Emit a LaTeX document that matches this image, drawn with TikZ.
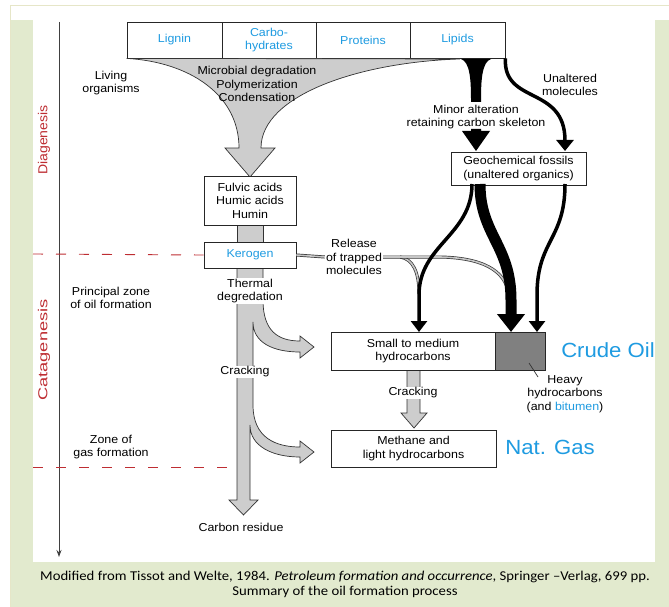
\documentclass[tikz,border=0pt]{standalone}
\usepackage{fontspec}
\setmainfont{Liberation Sans}[FakeStretch=1.08]
\newfontfamily\capfont{Carlito}[FakeStretch=1.09]
\usetikzlibrary{arrows.meta}
\definecolor{lblue}{RGB}{30,155,225}
\definecolor{dred}{RGB}{190,45,50}
\definecolor{pgreen}{RGB}{226,234,206}
\definecolor{pline}{RGB}{230,230,200}
\definecolor{fgray}{RGB}{205,205,205}
\definecolor{hgray}{RGB}{128,128,128}
\begin{document}
\begin{tikzpicture}[x=1pt,y=-1pt,font=\fontsize{11.5}{13.5}\selectfont,
  box/.style={draw=black!85,line width=0.8pt,fill=white,inner sep=0pt,align=center},
  lbl/.style={inner sep=1pt,align=center},
  wlbl/.style={inner sep=1pt,align=center,fill=white},
  garrow/.style={fill=fgray,draw=black!80,line width=0.7pt,line join=miter},
  reddash/.style={draw=dred,line width=0.9pt,dash pattern=on 10pt off 13pt},
  blk/.style={black,line width=3.5pt,-{Triangle[length=11pt,width=16pt]}},
  dbl/.style={draw=black!80,line width=0.7pt,double=gray!45,double distance=1.6pt},
  big/.style={font=\fontsize{20.5}{22}\selectfont,text=lblue,inner sep=0pt},
  stage/.style={font=\fontsize{13}{15}\selectfont,text=dred,rotate=90,inner sep=0pt}]
\useasboundingbox (0,0) rectangle (669,607);
% background
\fill[white] (0,0) rectangle (669,607);
\fill[pgreen] (10,20) rectangle (669,607);
\fill[white] (33,6) rectangle (655,562);
\draw[pline,line width=1pt] (10,607) -- (10,6) -- (669,6);
% axis and zone limits
\coordinate (axtop) at (59,22);
\coordinate (axbot) at (59,557);
\draw[black!75,line width=0.9pt,-{Stealth[length=7pt,width=5pt]}] (axtop) -- (axbot);
\node[stage] (diag) at (44,140) {Diagenesis};
\node[stage] (cata) at (44,350) {\scalebox{1.3}[1]{Catagenesis}};
\coordinate (d1a) at (33,254);
\coordinate (d2a) at (33,467);
\coordinate (d2b) at (228,467);
% top boxes
\node[box,minimum width=95pt,minimum height=36pt] (lignin) at (174.5,40) {};
\node[box,minimum width=94pt,minimum height=36pt] (carbo) at (269,40) {};
\node[box,minimum width=94pt,minimum height=36pt] (prot) at (363,40) {};
\node[box,minimum width=95pt,minimum height=36pt] (lipids) at (457.5,40) {};
% funnel
\draw[garrow] (lignin.south west) .. controls (190,62) and (239,95) .. (239,148) -- (225,148) -- (250,177) -- (275,148) -- (261,148) .. controls (261,95) and (360,62) .. (460,59) -- cycle;
% bar between fulvic and kerogen
\draw[garrow] (237,225) rectangle (263,242);
% thermal shaft with branches
\draw[garrow] (237,268) -- (237,500) -- (229,500) -- (243.5,515) -- (258,500) -- (250,500) -- (250,425)
  .. controls (250,446) and (272,457) .. (300,457) -- (300,463) -- (314,452) -- (300,441) -- (300,447)
  .. controls (276,447) and (253,438) .. (253,405) -- (253,322)
  .. controls (253,342) and (272,352) .. (300,352) -- (300,358) -- (314,347) -- (300,336) -- (300,341)
  .. controls (277,341) and (263,330) .. (263,300) -- (263,268) -- cycle;
% cracking arrow small -> methane
\draw[garrow] (407,370) -- (407,413) -- (401,413) -- (414,428) -- (427,413) -- (420,413) -- (420,370);
% release double lines
\node[lbl] (release) at (354,257) {Release\\of trapped\\molecules};
\node[box,minimum width=92pt,minimum height=26pt] (kerogen) at (250,255) {\textcolor{lblue}{Kerogen}};
\draw[reddash] (d1a) -- (kerogen.west);
\draw[reddash] (d2a) -- (d2b);
\draw[dbl] (kerogen.east) -- (release.west);
\coordinate (split) at (400,257);
\draw[dbl] (release.east) -- (split) .. controls (413,259) and (419,272) .. (419,294);
\draw[dbl] (split) -- (440,257) .. controls (490,258) and (508,275) .. (509,298);
% lipids black arrows
\fill[black] (461,59) .. controls (470,62) and (471,80) .. (471,100) -- (471,102) -- (481,102) -- (481,100) .. controls (481,80) and (482,62) .. (491,59) -- cycle;
\fill[black] (471,129) -- (471,131) -- (462,131) -- (476,151) -- (490,131) -- (481,131) -- (481,129) -- cycle;
\node[box,minimum width=135pt,minimum height=33pt] (geo) at (518.5,168.5) {Geochemical fossils\\(unaltered organics)};
\draw[blk,-{Triangle[length=11pt,width=17pt]}] (lipids.south east) .. controls (503,105) and (565,85) .. (565,151);
% geochemical fossils outgoing
\draw[blk] (472,184) .. controls (472,235) and (419,245) .. (419,295) -- (419,332);
\draw[black,line width=11pt,-{Triangle[length=18pt,width=27pt]}] (480,184) .. controls (480,235) and (511,245) .. (511,300) -- (511,332);
\draw[blk] (565,184) .. controls (565,240) and (537,240) .. (537,295) -- (537,332);
% remaining boxes
\node[box,minimum width=92pt,minimum height=49pt] (fulvic) at (250,200.5) {Fulvic acids\\Humic acids\\Humin};
\node[box,minimum width=164pt,minimum height=38pt] (small) at (413,351) {Small to medium\\hydrocarbons};
\node[box,fill=hgray,minimum width=50pt,minimum height=38pt] (heavy) at (520,351) {};
\node[box,minimum width=165pt,minimum height=37pt] (methane) at (413.5,448.5) {Methane and\\light hydrocarbons};
% cell texts
\node[lbl,text=lblue] at (lignin) {Lignin};
\node[lbl,text=lblue] at (carbo) {Carbo-\\hydrates};
\node[lbl,text=lblue] at (prot) {Proteins};
\node[lbl,text=lblue] at (lipids) {Lipids};
% labels
\node[lbl] (living) at (111,83) {Living\\organisms};
\node[lbl] (microbial) at (257,84) {Microbial degradation\\Polymerization\\Condensation};
\node[lbl] (minor) at (476,117) {Minor alteration\\retaining carbon skeleton};
\node[lbl] (unalt) at (570,85) {Unaltered\\molecules};
\node[wlbl] (thermal) at (250,291) {Thermal\\degredation};
\node[wlbl] (crack1) at (245,372) {Cracking};
\node[wlbl] (crack2) at (413,393) {Cracking};
\node[lbl] (residue) at (241,527) {Carbon residue};
\node[lbl] (oilzone) at (111,298) {Principal zone\\of oil formation};
\node[lbl] (gaszone) at (111,447) {Zone of\\gas formation};
\node[lbl] (heavytxt) at (565,394) {Heavy\\hydrocarbons\\(and \textcolor{lblue}{bitumen})};
\coordinate (leadA) at (529,363);
\coordinate (leadB) at (538,377);
\draw[black!80,line width=0.7pt] (leadA) -- (leadB);
\node[big] (crude) at (608,350) {Crude Oil};
\node[big] (natgas) at (550,447) {Nat. Gas};
% caption
\node[inner sep=0pt,font=\capfont\fontsize{13.5}{15}\selectfont] (cap1) at (345,577) {Modified from Tissot and Welte, 1984. \textit{Petroleum formation and occurrence}, Springer –Verlag, 699 pp.};
\node[inner sep=0pt,font=\capfont\fontsize{13.5}{15}\selectfont] (cap2) at (345,592) {Summary of the oil formation process};
\end{tikzpicture}
\end{document}
